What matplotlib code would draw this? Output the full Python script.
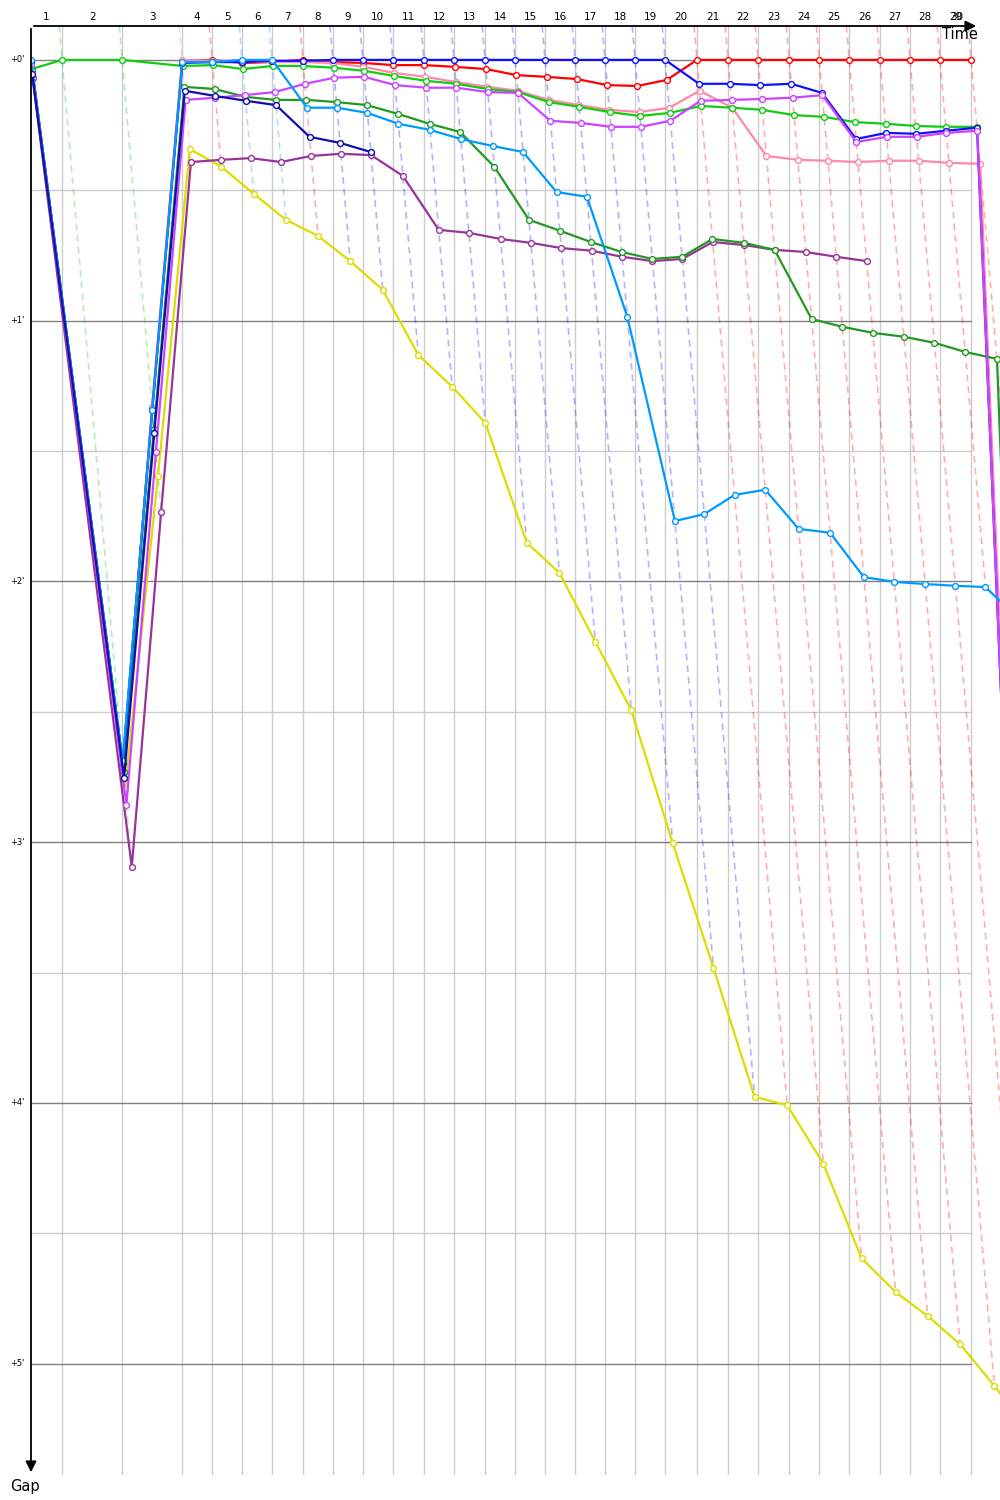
import matplotlib.pyplot as plt
import numpy as np

# Gap chart: x = race time (s), y = gap to leader (s)

# leader lap times in seconds (lap 1 .. 29)
lap_times = [83, 160, 160, 80, 80, 80, 82, 80, 80, 80, 83, 80, 83, 80, 80,
             80, 80, 80, 80, 85, 83, 80, 83, 80, 80, 82, 80, 80, 83]

# gaps to the leader in seconds, start (lap 0) then lap 1, 2, ...
gap_red = [0.2, 162.2, 80.1, 0.2, 0, 0.7, 0.5, 0, 0.5, 0.7, 1.2, 1.2, 1.6, 2.1, 3.5,
           3.9, 4.4, 5.8, 6.0, 4.6, 0, 0, 0, 0, 0, 0, 0, 0, 0, 0]
gap_blue = [0.7, 161.8, 80.5, 0.7, 0.5, 0.5, 0.2, 0.2, 0, 0, 0, 0, 0, 0, 0,
            0, 0, 0, 0, 0, 5.5, 5.5, 5.8, 5.5, 7.6, 18.2, 16.8, 17.0, 16.3, 15.6]
gap_green = [2.1, 0, 0, 1.4, 1.2, 2.1, 1.4, 1.4, 1.8, 2.5, 3.7, 4.8, 5.5, 6.7, 7.4,
             9.7, 10.8, 12.0, 12.9, 12.2, 10.6, 11.0, 11.5, 12.7, 13.1, 14.3, 14.7, 15.2, 15.4, 15.4]
gap_pink = [0.5, 162.9, 79.8, 0, 0.2, 0.2, 0.5, 0.5, 0.7, 1.6, 3.0, 3.9, 5.1, 6.2, 7.1,
            9.2, 10.4, 11.5, 12.0, 11.0, 7.1, 11.0, 22.1, 23.0, 23.2, 23.5, 23.2, 23.2, 23.7, 23.9]
gap_magenta = [1.2, 171.4, 90.2, 9.2, 8.7, 8.1, 7.4, 5.5, 4.1, 3.9, 5.8, 6.4, 6.4, 7.4, 7.6,
               14.0, 14.5, 15.4, 15.4, 14.0, 9.4, 9.2, 9.0, 8.7, 8.1, 18.9, 17.7, 17.7, 16.8, 16.3]
gap_darkgreen = [2.3, 163.8, 84.9, 6.2, 6.7, 8.5, 9.2, 9.2, 9.7, 10.4, 12.4, 14.7, 16.6, 24.6, 36.8,
                 39.3, 41.9, 44.2, 45.8, 45.3, 41.2, 42.1, 43.7, 59.6, 61.4, 62.8, 63.7, 65.1, 67.2, 68.8]
gap_navy = [3.2, 165.2, 85.8, 7.1, 8.3, 9.4, 10.4, 17.7, 19.1, 21.2]
gap_lightblue = [0, 161.3, 80.5, 0.5, 0.5, 0, 0, 11.0, 11.0, 12.2, 14.7, 16.1, 18.2, 19.8, 21.2,
                 30.4, 31.5, 59.1, 106.1, 104.5, 100.1, 98.9, 107.9, 108.8, 119.0, 120.1, 120.6, 121.0, 121.3, 128.9]
gap_purple = [4.1, 185.7, 104.0, 23.5, 23.0, 22.6, 23.5, 22.1, 21.6, 21.9, 26.7, 39.1, 39.8, 41.2, 42.1,
              43.3, 43.9, 45.3, 46.3, 45.8, 41.9, 42.6, 43.7, 44.2, 45.3, 46.3]
gap_yellow = [2.8, 167.7, 95.7, 20.5, 24.6, 30.8, 36.8, 40.5, 46.3, 52.9, 67.9, 75.2, 83.5, 111.1, 118.0,
              133.9, 149.6, 180.2, 208.9, 238.6, 240.5, 254.0, 275.7, 283.5, 289.0, 295.5, 305.1, 315.2]

# last segment of a few cars runs off the chart (time, gap)
final_time = {'blue': 2685, 'magenta': 2685, 'pink': 2688, 'darkgreen': 2702}
final_gap = {'blue': 345, 'magenta': 345, 'pink': 345, 'darkgreen': 345}

# drawing order (bottom -> top)
cars = ['red', 'pink', 'green', 'yellow', 'purple', 'darkgreen', 'blue', 'magenta', 'lightblue', 'navy']
gaps = {'red': gap_red, 'blue': gap_blue, 'green': gap_green, 'pink': gap_pink,
        'magenta': gap_magenta, 'darkgreen': gap_darkgreen, 'navy': gap_navy,
        'lightblue': gap_lightblue, 'purple': gap_purple, 'yellow': gap_yellow}
colors = {'red': '#ff0000', 'blue': '#1010ff', 'green': '#11cc11', 'pink': '#ff88aa',
          'magenta': '#cc44ff', 'darkgreen': '#229922', 'navy': '#1010aa',
          'lightblue': '#0099ff', 'purple': '#993399', 'yellow': '#dddd00'}

cross = np.concatenate([[0], np.cumsum(lap_times)])   # leader crossing times
n_laps = len(lap_times)

g_top, g_bottom = -7.8, 325.6
t_max = 2584

fig = plt.figure(figsize=(10, 15), dpi=100)
ax = fig.add_axes([0.031, 25 / 1500, 0.969, 1449 / 1500])
ax.set_xlim(0, t_max)
ax.set_ylim(g_bottom, g_top)
for s in ax.spines.values():
    s.set_visible(False)
ax.set_xticks([])
ax.set_yticks([])

# grid
for k in range(1, n_laps + 1):
    ax.axvline(cross[k], color='#cccccc', lw=1, zorder=0)
for half in range(0, 11):
    g = half * 30
    col = '#808080' if half % 2 == 0 else '#cccccc'
    ax.plot([0, cross[-1]], [g, g], color=col, lw=1, zorder=0.5)
    if half % 2 == 0:
        ax.text(-0.007, g, "+%d'" % (half // 2), transform=ax.get_yaxis_transform(),
                ha='right', va='center', fontsize=6, clip_on=False)

# lap isochrones (dashed), coloured by lap leader
for k in range(1, n_laps + 1):
    lap_gaps = {c: gaps[c][k] for c in cars if len(gaps[c]) > k}
    leader = min(lap_gaps, key=lap_gaps.get)
    g_end = max(lap_gaps.values())
    ax.plot([cross[k] + g_top, cross[k] + g_end], [g_top, g_end], color=colors[leader],
            alpha=0.32, lw=1.2, dashes=(4, 3), zorder=1)

# cars
for c in cars:
    g = np.array(gaps[c])
    t = cross[:len(g)] + g
    if c in final_time:
        ax.plot([t[-1], final_time[c]], [g[-1], final_gap[c]], color=colors[c], lw=1.6, zorder=2)
    ax.plot(t, g, color=colors[c], lw=1.6, marker='o', markersize=4.2,
            markerfacecolor='white', markeredgecolor=colors[c], markeredgewidth=1.0, zorder=2)

# lap numbers on top
for k in range(1, n_laps + 1):
    ax.text((cross[k - 1] + cross[k]) / 2, 1.0062, str(k), transform=ax.get_xaxis_transform(),
            ha='center', va='center', fontsize=7.5, clip_on=False)
ax.text((cross[-2] + cross[-1]) / 2 + 4, 1.0062, str(n_laps + 1), transform=ax.get_xaxis_transform(),
        ha='center', va='center', fontsize=7.5, clip_on=False)

# axes arrows
ax.annotate('', xy=(2528, 1), xytext=(0, 1), xycoords=('data', 'axes fraction'),
            arrowprops=dict(arrowstyle='-|>', color='black', lw=1.3, mutation_scale=16),
            annotation_clip=False)
ax.annotate('', xy=(0, 0), xytext=(0, 1), xycoords='axes fraction',
            arrowprops=dict(arrowstyle='-|>', color='black', lw=1.3, mutation_scale=16),
            annotation_clip=False)
ax.text(2478, 0.9938, 'Time', transform=ax.get_xaxis_transform(), ha='center', va='center', fontsize=10.5)
ax.text(-0.0062, -0.0076, 'Gap', transform=ax.transAxes, ha='center', va='center', fontsize=10.5,
        clip_on=False)

plt.savefig('out.png')
plt.close()
